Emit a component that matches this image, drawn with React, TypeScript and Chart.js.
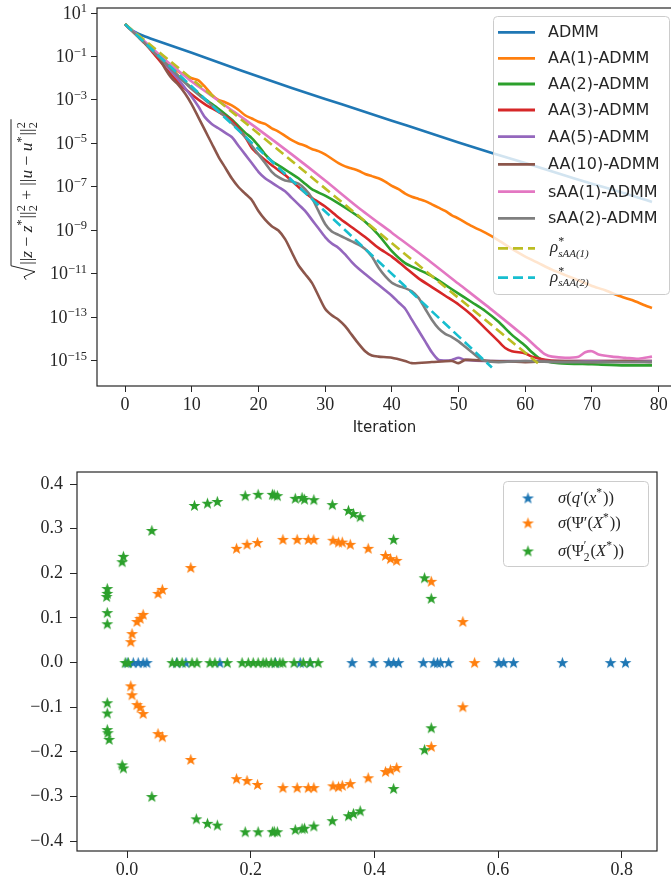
import React, { useEffect, useRef } from "react";
import { Chart, registerables } from "chart.js";
Chart.register(...registerables);

// ================= TOP CHART DATA (iteration, log10 of error) =================
const admmIter = [0, 1, 2, 3, 5, 10, 15, 20, 25, 30, 35, 40, 45, 50, 55, 60, 65, 70, 75, 79];
const admmLog = [0.49, 0.22, 0.05, -0.08, -0.3, -0.83, -1.38, -1.92, -2.45, -2.95, -3.45, -3.95, -4.45, -4.95, -5.44, -5.9, -6.38, -6.85, -7.3, -7.69];

const aa1Iter = [0, 1, 2, 3, 4, 6, 8, 10, 11, 12, 13, 14, 15, 16, 17, 18, 19, 20, 21, 22, 23, 24, 25, 26, 27, 28, 29, 30, 31, 32, 33, 34, 35, 36, 37, 38, 39, 40, 41, 42, 43, 44, 45, 46, 47, 48, 49, 50, 52, 54, 56, 58, 60, 62, 64, 66, 68, 70, 72, 74, 76, 78, 79];
const aa1Log = [0.49, 0.2, -0.1, -0.4, -0.7, -1.2, -1.7, -2.0, -2.1, -2.4, -2.75, -3.0, -3.1, -3.25, -3.45, -3.7, -3.85, -4.0, -4.1, -4.3, -4.45, -4.65, -4.85, -5.0, -5.1, -5.25, -5.35, -5.5, -5.7, -5.9, -6.05, -6.15, -6.25, -6.4, -6.5, -6.6, -6.75, -6.95, -7.1, -7.3, -7.45, -7.55, -7.65, -7.8, -7.95, -8.1, -8.3, -8.45, -8.8, -9.1, -9.45, -9.85, -10.2, -10.5, -10.8, -11.05, -11.3, -11.55, -11.75, -12.0, -12.2, -12.45, -12.56];

const aa2Iter = [0, 1, 2, 3, 4, 6, 8, 10, 12, 14, 16, 18, 19, 20, 21, 22, 23, 24, 25, 26, 27, 28, 30, 32, 34, 36, 38, 40, 42, 44, 46, 48, 50, 52, 54, 56, 58, 60, 61, 62, 63, 65, 70, 75, 79];
const aa2Log = [0.49, 0.2, -0.1, -0.4, -0.72, -1.3, -1.9, -2.45, -2.95, -3.4, -3.9, -4.5, -4.75, -5.1, -5.5, -5.8, -6.0, -6.2, -6.4, -6.6, -6.85, -7.1, -7.4, -7.75, -8.15, -8.6, -9.2, -9.95, -10.5, -10.8, -11.1, -11.5, -11.9, -12.3, -12.7, -13.2, -13.8, -14.3, -14.6, -14.85, -15.0, -15.1, -15.15, -15.2, -15.2];

const aa3Iter = [0, 1, 2, 3, 4, 6, 8, 10, 12, 14, 16, 18, 19, 20, 22, 24, 26, 28, 30, 32, 34, 36, 38, 40, 42, 44, 46, 48, 50, 52, 54, 56, 57, 58, 60, 61, 63, 65, 70, 79];
const aa3Log = [0.49, 0.2, -0.1, -0.4, -0.75, -1.5, -2.2, -2.75, -3.2, -3.55, -3.95, -4.7, -5.2, -5.5, -6.0, -6.45, -7.0, -7.5, -7.9, -8.4, -8.85, -9.3, -9.8, -10.2, -10.7, -11.2, -11.6, -12.0, -12.4, -12.9, -13.5, -14.1, -14.4, -14.55, -14.65, -14.8, -14.95, -15.0, -15.0, -15.0];

const aa5Iter = [0, 1, 2, 3, 4, 5, 6, 7, 8, 9, 10, 11, 12, 13, 14, 15, 16, 17, 18, 19, 20, 21, 22, 23, 24, 25, 26, 27, 28, 29, 30, 31, 32, 33, 34, 35, 36, 37, 38, 39, 40, 41, 42, 43, 44, 45, 46, 47, 48, 49, 50, 51, 55, 60, 65, 70, 75, 79];
const aa5Log = [0.49, 0.2, -0.1, -0.4, -0.72, -1.0, -1.35, -1.7, -2.05, -2.45, -2.85, -3.3, -3.8, -4.1, -4.3, -4.5, -4.7, -5.1, -5.5, -5.9, -6.3, -6.6, -6.8, -7.0, -7.2, -7.5, -7.8, -8.1, -8.5, -8.9, -9.3, -9.6, -9.8, -10.1, -10.45, -10.75, -11.0, -11.25, -11.5, -11.75, -12.0, -12.3, -12.6, -13.1, -13.6, -14.1, -14.6, -14.95, -14.98, -14.95, -14.85, -14.95, -15.0, -15.0, -15.0, -15.0, -15.0, -15.0];

const aa10Iter = [0, 1, 2, 3, 4, 5, 6, 7, 8, 9, 10, 11, 12, 13, 14, 15, 16, 17, 18, 19, 20, 21, 22, 23, 24, 25, 26, 27, 28, 29, 30, 31, 32, 33, 34, 35, 36, 37, 38, 40, 42, 43, 46, 49, 50, 51, 55, 60, 65, 70, 75, 79];
const aa10Log = [0.49, 0.2, -0.1, -0.4, -0.7, -1.0, -1.55, -2.0, -2.3, -2.7, -3.2, -3.8, -4.4, -5.0, -5.6, -6.1, -6.6, -7.0, -7.3, -7.6, -8.1, -8.5, -8.8, -9.0, -9.4, -10.0, -10.6, -11.0, -11.4, -12.0, -12.6, -12.9, -13.1, -13.4, -13.8, -14.2, -14.55, -14.75, -14.8, -14.85, -15.0, -15.1, -15.05, -15.0, -15.1, -14.95, -15.0, -15.05, -15.0, -15.05, -15.0, -15.05];

const saa1Iter = [0, 2, 4, 6, 8, 10, 15, 20, 25, 30, 35, 40, 45, 50, 55, 60, 62, 63, 64, 66, 68, 69, 70, 71, 73, 75, 77, 79];
const saa1Log = [0.49, -0.05, -0.6, -1.15, -1.65, -2.15, -3.25, -4.35, -5.5, -6.7, -7.95, -9.1, -10.25, -11.45, -12.65, -13.9, -14.45, -14.7, -14.8, -14.85, -14.8, -14.6, -14.55, -14.7, -14.8, -14.85, -14.9, -14.8];

const saa2Iter = [0, 1, 2, 3, 4, 6, 8, 10, 12, 14, 16, 18, 20, 21, 22, 23, 24, 25, 26, 27, 28, 29, 30, 31, 32, 33, 34, 35, 36, 37, 38, 39, 40, 41, 42, 43, 44, 45, 46, 47, 48, 49, 50, 51, 52, 53, 54, 56, 60, 65, 70, 75, 79];
const saa2Log = [0.49, 0.2, -0.1, -0.4, -0.72, -1.3, -1.9, -2.5, -3.0, -3.5, -4.05, -4.7, -5.5, -5.9, -6.3, -6.55, -6.7, -6.75, -6.85, -7.1, -7.5, -8.1, -8.7, -9.05, -9.2, -9.35, -9.5, -9.65, -9.85, -10.2, -10.7, -11.1, -11.4, -11.55, -11.65, -11.8, -12.1, -12.6, -13.1, -13.5, -13.75, -13.9, -14.1, -14.35, -14.6, -14.85, -15.0, -15.05, -15.0, -15.05, -15.05, -15.05, -15.05];

const rho1Iter = [0, 61.9];
const rho1Log = [0.49, -15.1];
const rho2Iter = [0, 55];
const rho2Log = [0.49, -15.3];

const topXTicks = [0, 10, 20, 30, 40, 50, 60, 70, 80];
const topYTickExps = [1, -1, -3, -5, -7, -9, -11, -13, -15];

// ================= BOTTOM CHART DATA =================
const blueX = [0.0, 0.01, 0.018, 0.026, 0.032, 0.08, 0.095, 0.15, 0.24, 0.28, 0.296, 0.364, 0.398, 0.423, 0.431, 0.439, 0.479, 0.496, 0.502, 0.507, 0.52, 0.601, 0.609, 0.625, 0.704, 0.782, 0.806];
const blueY = [0, 0, 0, 0, 0, 0, 0, 0, 0, 0, 0, 0, 0, 0, 0, 0, 0, 0, 0, 0, 0, 0, 0, 0, 0, 0, 0];

const orangeX = [0.006, 0.008, 0.016, 0.021, 0.026, 0.05, 0.057, 0.103, 0.177, 0.194, 0.211, 0.252, 0.275, 0.293, 0.302, 0.333, 0.342, 0.348, 0.361, 0.39, 0.418, 0.426, 0.436, 0.492, 0.543, 0.562,
  0.006, 0.008, 0.016, 0.021, 0.026, 0.05, 0.057, 0.103, 0.177, 0.194, 0.211, 0.252, 0.275, 0.293, 0.302, 0.333, 0.342, 0.348, 0.361, 0.39, 0.418, 0.426, 0.436, 0.492, 0.543];
const orangeY = [0.047, 0.065, 0.092, 0.099, 0.108, 0.155, 0.164, 0.213, 0.256, 0.265, 0.269, 0.276, 0.276, 0.276, 0.276, 0.274, 0.27, 0.27, 0.265, 0.256, 0.24, 0.233, 0.229, 0.182, 0.092, 0.0,
  -0.052, -0.072, -0.094, -0.1, -0.114, -0.159, -0.166, -0.217, -0.26, -0.264, -0.273, -0.28, -0.28, -0.28, -0.28, -0.276, -0.278, -0.275, -0.271, -0.258, -0.244, -0.24, -0.235, -0.188, -0.099];

const greenX = [-0.032, -0.032, -0.033, -0.032, -0.032, -0.006, -0.008, 0.04, 0.109, 0.13, 0.146, 0.191, 0.212, 0.235, 0.238, 0.243, 0.272, 0.283, 0.287, 0.302, 0.332, 0.358, 0.366, 0.377, 0.431, 0.481, 0.492,
  -0.032, -0.032, -0.032, -0.031, -0.029, -0.008, -0.006, 0.04, 0.112, 0.13, 0.146, 0.191, 0.212, 0.235, 0.238, 0.243, 0.272, 0.283, 0.287, 0.302, 0.332, 0.358, 0.366, 0.377, 0.431, 0.481, 0.492,
  -0.003, 0.002, 0.073, 0.081, 0.089, 0.105, 0.113, 0.134, 0.142, 0.162, 0.186, 0.196, 0.204, 0.212, 0.22, 0.225, 0.233, 0.239, 0.247, 0.252, 0.27, 0.285, 0.296, 0.309];
const greenY = [0.166, 0.155, 0.148, 0.112, 0.087, 0.238, 0.226, 0.296, 0.352, 0.357, 0.361, 0.374, 0.377, 0.377, 0.376, 0.374, 0.368, 0.37, 0.366, 0.365, 0.354, 0.341, 0.334, 0.327, 0.276, 0.19, 0.144,
  -0.09, -0.113, -0.15, -0.157, -0.172, -0.229, -0.236, -0.3, -0.35, -0.36, -0.364, -0.379, -0.379, -0.379, -0.378, -0.379, -0.374, -0.372, -0.371, -0.366, -0.354, -0.343, -0.338, -0.332, -0.282, -0.195, -0.146,
  0, 0, 0, 0, 0, 0, 0, 0, 0, 0, 0, 0, 0, 0, 0, 0, 0, 0, 0, 0, 0, 0, 0, 0];

const botXTicks = [0.0, 0.2, 0.4, 0.6, 0.8];
const botYTicks = [-0.4, -0.3, -0.2, -0.1, 0.0, 0.1, 0.2, 0.3, 0.4];

// ================= helpers =================
const SERIF = "'Liberation Serif', 'DejaVu Serif', serif";
const SANS = "'DejaVu Sans', sans-serif";
const TXT = "#262626";

type Seg = { t?: string; it?: boolean; sup?: string; sub?: string; subIt?: boolean; supSz?: number; subSz?: number };

function drawSegs(ctx: CanvasRenderingContext2D, segs: Seg[], x: number, y: number, base: number, fam: string, dry = false): number {
  let cx = x;
  for (const s of segs) {
    if (s.t !== undefined) {
      ctx.font = `${s.it ? "italic " : ""}${base}px ${fam}`;
      if (!dry) ctx.fillText(s.t, cx, y);
      cx += ctx.measureText(s.t).width;
    } else {
      let w = 0;
      if (s.sup) {
        const sz = s.supSz ?? base * 0.7;
        ctx.font = `${sz}px ${fam}`;
        if (!dry) ctx.fillText(s.sup, cx, y - base * 0.42);
        w = Math.max(w, ctx.measureText(s.sup).width);
      }
      if (s.sub) {
        const sz = s.subSz ?? base * 0.7;
        ctx.font = `${s.subIt ? "italic " : ""}${sz}px ${fam}`;
        if (!dry) ctx.fillText(s.sub, cx, y + base * 0.28);
        w = Math.max(w, ctx.measureText(s.sub).width);
      }
      cx += w + 1;
    }
  }
  return cx - x;
}

function makeStar(color: string, r: number): HTMLCanvasElement {
  const c = document.createElement("canvas");
  const s = Math.ceil(r * 2 + 2);
  c.width = s;
  c.height = s;
  const g = c.getContext("2d")!;
  g.beginPath();
  for (let i = 0; i < 10; i++) {
    const ang = -Math.PI / 2 + (i * Math.PI) / 5;
    const rr = i % 2 === 0 ? r : r * 0.4;
    g.lineTo(s / 2 + rr * Math.cos(ang), s / 2 + rr * Math.sin(ang) + r * 0.08);
  }
  g.closePath();
  g.fillStyle = color;
  g.fill();
  return c;
}

const topSeries = [
  { label: "ADMM", iters: admmIter, logs: admmLog, color: "#1f77b4", dash: [] as number[] },
  { label: "AA(1)-ADMM", iters: aa1Iter, logs: aa1Log, color: "#ff7f0e", dash: [] },
  { label: "AA(2)-ADMM", iters: aa2Iter, logs: aa2Log, color: "#2ca02c", dash: [] },
  { label: "AA(3)-ADMM", iters: aa3Iter, logs: aa3Log, color: "#d62728", dash: [] },
  { label: "AA(5)-ADMM", iters: aa5Iter, logs: aa5Log, color: "#9467bd", dash: [] },
  { label: "AA(10)-ADMM", iters: aa10Iter, logs: aa10Log, color: "#8c564b", dash: [] },
  { label: "sAA(1)-ADMM", iters: saa1Iter, logs: saa1Log, color: "#e377c2", dash: [] },
  { label: "sAA(2)-ADMM", iters: saa2Iter, logs: saa2Log, color: "#7f7f7f", dash: [] },
  { label: "rho1", iters: rho1Iter, logs: rho1Log, color: "#bcbd22", dash: [10, 5] },
  { label: "rho2", iters: rho2Iter, logs: rho2Log, color: "#17becf", dash: [10, 5] },
];

const rhoSegs = (k: string): Seg[] => [
  { t: "ρ", it: true },
  { sup: "*", sub: "sAA(" + k + ")", subIt: true, supSz: 12, subSz: 11 },
];

const topLegendYs = [32.3, 58.3, 84, 110, 136.7, 164.3, 191.7, 218.3, 248.3, 277.7];

const topDecor = {
  id: "topDecor",
  afterDraw(chart: any) {
    const { ctx, chartArea: a, scales } = chart;
    ctx.save();
    ctx.strokeStyle = TXT;
    ctx.lineWidth = 1.2;
    ctx.strokeRect(a.left, a.top, a.right - a.left, a.bottom - a.top);

    ctx.fillStyle = TXT;
    ctx.textBaseline = "alphabetic";
    ctx.textAlign = "left";
    for (const e of topYTickExps) {
      const py = scales.y.getPixelForValue(Math.pow(10, e));
      ctx.font = `18px ${SERIF}`;
      const w1 = ctx.measureText("10").width;
      const es = e < 0 ? "−" + Math.abs(e) : String(e);
      ctx.font = `12.5px ${SERIF}`;
      const w2 = ctx.measureText(es).width;
      const x0 = a.left - 6 - 4 - w1 - w2;
      ctx.font = `18px ${SERIF}`;
      ctx.fillText("10", x0, py + 5.5);
      ctx.font = `12.5px ${SERIF}`;
      ctx.fillText(es, x0 + w1, py - 1);
    }

    ctx.font = `15px ${SANS}`;
    ctx.textAlign = "center";
    ctx.textBaseline = "middle";
    ctx.fillText("Iteration", (a.left + a.right) / 2 - 4, 428);

    const ysegs: Seg[] = [
      { t: "||" }, { t: "z", it: true }, { t: " − " }, { t: "z", it: true }, { sup: "*" }, { t: "||" }, { sup: "2", sub: "2" },
      { t: " + " },
      { t: "||" }, { t: "u", it: true }, { t: " − " }, { t: "u", it: true }, { sup: "*" }, { t: "||" }, { sup: "2", sub: "2" },
    ];
    ctx.save();
    ctx.translate(32, 200);
    ctx.rotate(-Math.PI / 2);
    ctx.textAlign = "left";
    ctx.textBaseline = "alphabetic";
    const base = 17.5;
    const tw = drawSegs(ctx, ysegs, 0, 0, base, SERIF, true);
    const x0 = -tw / 2 + 7;
    drawSegs(ctx, ysegs, x0, 0, base, SERIF);
    ctx.strokeStyle = TXT;
    ctx.lineWidth = 1;
    ctx.beginPath();
    ctx.moveTo(x0 - 15, -6);
    ctx.lineTo(x0 - 12, -8);
    ctx.lineTo(x0 - 7, 3);
    ctx.lineTo(x0 - 1, -21);
    ctx.lineTo(x0 + tw + 2, -21);
    ctx.stroke();
    ctx.restore();

    ctx.beginPath();
    ctx.roundRect(493.5, 16.5, 176, 278, 4);
    ctx.fillStyle = "rgba(255,255,255,0.8)";
    ctx.fill();
    ctx.strokeStyle = "#cccccc";
    ctx.lineWidth = 1;
    ctx.stroke();
    topSeries.forEach((s, i) => {
      const y = topLegendYs[i];
      ctx.strokeStyle = s.color;
      ctx.lineWidth = 2.8;
      ctx.setLineDash(s.dash);
      ctx.beginPath();
      ctx.moveTo(498, y);
      ctx.lineTo(535, y);
      ctx.stroke();
      ctx.setLineDash([]);
      ctx.fillStyle = TXT;
      ctx.textAlign = "left";
      if (s.label === "rho1" || s.label === "rho2") {
        ctx.textBaseline = "alphabetic";
        drawSegs(ctx, rhoSegs(s.label === "rho1" ? "1" : "2"), 550, y + 4, 17, SERIF);
      } else {
        ctx.textBaseline = "middle";
        ctx.font = `16px ${SANS}`;
        ctx.fillText(s.label, 548, y + 1);
      }
    });
    ctx.restore();
  },
};

const botLegend = [
  { segs: [{ t: "σ", it: true }, { t: "(" }, { t: "q", it: true }, { t: "′" }, { t: "(" }, { t: "x", it: true }, { sup: "*" }, { t: "))" }] as Seg[], color: "#1f77b4", y: 498 },
  { segs: [{ t: "σ", it: true }, { t: "(" }, { t: "Ψ" }, { t: "′" }, { t: "(" }, { t: "X", it: true }, { sup: "*" }, { t: "))" }] as Seg[], color: "#ff7f0e", y: 523 },
  { segs: [{ t: "σ", it: true }, { t: "(" }, { t: "Ψ" }, { sup: "′", sub: "2" }, { t: "(" }, { t: "X", it: true }, { sup: "*" }, { t: "))" }] as Seg[], color: "#2ca02c", y: 551 },
];

const botDecor = {
  id: "botDecor",
  afterDraw(chart: any) {
    const { ctx, chartArea: a } = chart;
    ctx.save();
    ctx.strokeStyle = TXT;
    ctx.lineWidth = 1.2;
    ctx.strokeRect(a.left, a.top, a.right - a.left, a.bottom - a.top);
    const off = 440;
    ctx.beginPath();
    ctx.roundRect(503.5, 481.5 - off, 145, 85, 4);
    ctx.fillStyle = "rgba(255,255,255,0.8)";
    ctx.fill();
    ctx.strokeStyle = "#cccccc";
    ctx.lineWidth = 1;
    ctx.stroke();
    botLegend.forEach((l) => {
      const st = makeStar(l.color, 6.3);
      ctx.drawImage(st, 528 - st.width / 2, l.y - off - st.height / 2);
      ctx.fillStyle = TXT;
      ctx.textAlign = "left";
      ctx.textBaseline = "alphabetic";
      drawSegs(ctx, l.segs, 558, l.y - off + 5, 16.5, SERIF);
    });
    ctx.restore();
  },
};

const fmt = (v: number) => {
  const s = Math.abs(v) < 1e-9 ? "0.0" : v.toFixed(1);
  return s.replace("-", "−");
};

export default function App() {
  const topRef = useRef<HTMLCanvasElement>(null);
  const botRef = useRef<HTMLCanvasElement>(null);

  useEffect(() => {
    const n = topSeries.length;
    const top = new Chart(topRef.current!, {
      type: "line",
      data: {
        datasets: topSeries.map((s, i) => ({
          label: s.label,
          data: s.iters.map((x, j) => ({ x, y: Math.pow(10, s.logs[j]) })),
          borderColor: s.color,
          backgroundColor: s.color,
          borderWidth: 2.6,
          borderDash: s.dash,
          pointRadius: 0,
          tension: 0.25,
          fill: false,
          order: n - 1 - i,
        })),
      },
      options: {
        responsive: false,
        animation: false,
        devicePixelRatio: 1,
        events: [],
        layout: { padding: { left: 0, top: 8, right: 20, bottom: 0 } },
        plugins: { legend: { display: false }, tooltip: { enabled: false } },
        scales: {
          x: {
            type: "linear",
            min: -4.2,
            max: 83.2,
            afterBuildTicks: (s: any) => {
              s.ticks = topXTicks.map((v) => ({ value: v }));
            },
            afterFit: (s: any) => {
              s.height = 54;
            },
            ticks: {
              autoSkip: false,
              maxRotation: 0,
              padding: 2,
              color: TXT,
              font: { family: SERIF, size: 18 },
              callback: (v: any) => String(v),
            },
            grid: { drawOnChartArea: false, drawTicks: true, tickLength: 6, color: TXT, tickColor: TXT },
            border: { display: false },
          },
          y: {
            type: "logarithmic",
            min: Math.pow(10, -16.15),
            max: Math.pow(10, 1.23),
            afterBuildTicks: (s: any) => {
              s.ticks = topYTickExps.map((e) => ({ value: Math.pow(10, e) }));
            },
            afterFit: (s: any) => {
              s.width = 97;
            },
            ticks: { autoSkip: false, callback: () => "", font: { size: 1 } },
            grid: { drawOnChartArea: false, drawTicks: true, tickLength: 6, color: TXT, tickColor: TXT },
            border: { display: false },
          },
        },
      },
      plugins: [topDecor],
    } as any);

    const bot = new Chart(botRef.current!, {
      type: "scatter",
      data: {
        datasets: [
          { label: "q", data: blueX.map((x, i) => ({ x, y: blueY[i] })), pointStyle: makeStar("#1f77b4", 6.3), order: 2 },
          { label: "psi", data: orangeX.map((x, i) => ({ x, y: orangeY[i] })), pointStyle: makeStar("#ff7f0e", 6.3), order: 1 },
          { label: "psi2", data: greenX.map((x, i) => ({ x, y: greenY[i] })), pointStyle: makeStar("#2ca02c", 6.3), order: 0 },
        ],
      },
      options: {
        responsive: false,
        animation: false,
        devicePixelRatio: 1,
        events: [],
        layout: { padding: { left: 0, top: 32, right: 14, bottom: 0 } },
        plugins: { legend: { display: false }, tooltip: { enabled: false } },
        scales: {
          x: {
            type: "linear",
            min: -0.081,
            max: 0.857,
            afterBuildTicks: (s: any) => {
              s.ticks = botXTicks.map((v) => ({ value: v }));
            },
            afterFit: (s: any) => {
              s.height = 33;
            },
            ticks: {
              autoSkip: false,
              maxRotation: 0,
              padding: 1,
              color: TXT,
              font: { family: SERIF, size: 18 },
              callback: (v: any) => fmt(v),
            },
            grid: { drawOnChartArea: false, drawTicks: true, tickLength: 7, color: TXT, tickColor: TXT },
            border: { display: false },
          },
          y: {
            type: "linear",
            min: -0.422,
            max: 0.427,
            afterBuildTicks: (s: any) => {
              s.ticks = botYTicks.map((v) => ({ value: v }));
            },
            afterFit: (s: any) => {
              s.width = 77;
            },
            ticks: {
              autoSkip: false,
              padding: 7,
              color: TXT,
              font: { family: SERIF, size: 18 },
              callback: (v: any) => fmt(v),
            },
            grid: { drawOnChartArea: false, drawTicks: true, tickLength: 7, color: TXT, tickColor: TXT },
            border: { display: false },
          },
        },
      },
      plugins: [botDecor],
    } as any);

    return () => {
      top.destroy();
      bot.destroy();
    };
  }, []);

  return (
    <div style={{ position: "fixed", left: 0, top: 0, width: 671, height: 884, overflow: "hidden", background: "#fff" }}>
      <canvas ref={topRef} width={700} height={440} style={{ position: "absolute", left: 0, top: 0, width: 700, height: 440 }} />
      <canvas ref={botRef} width={671} height={444} style={{ position: "absolute", left: 0, top: 440, width: 671, height: 444 }} />
    </div>
  );
}
